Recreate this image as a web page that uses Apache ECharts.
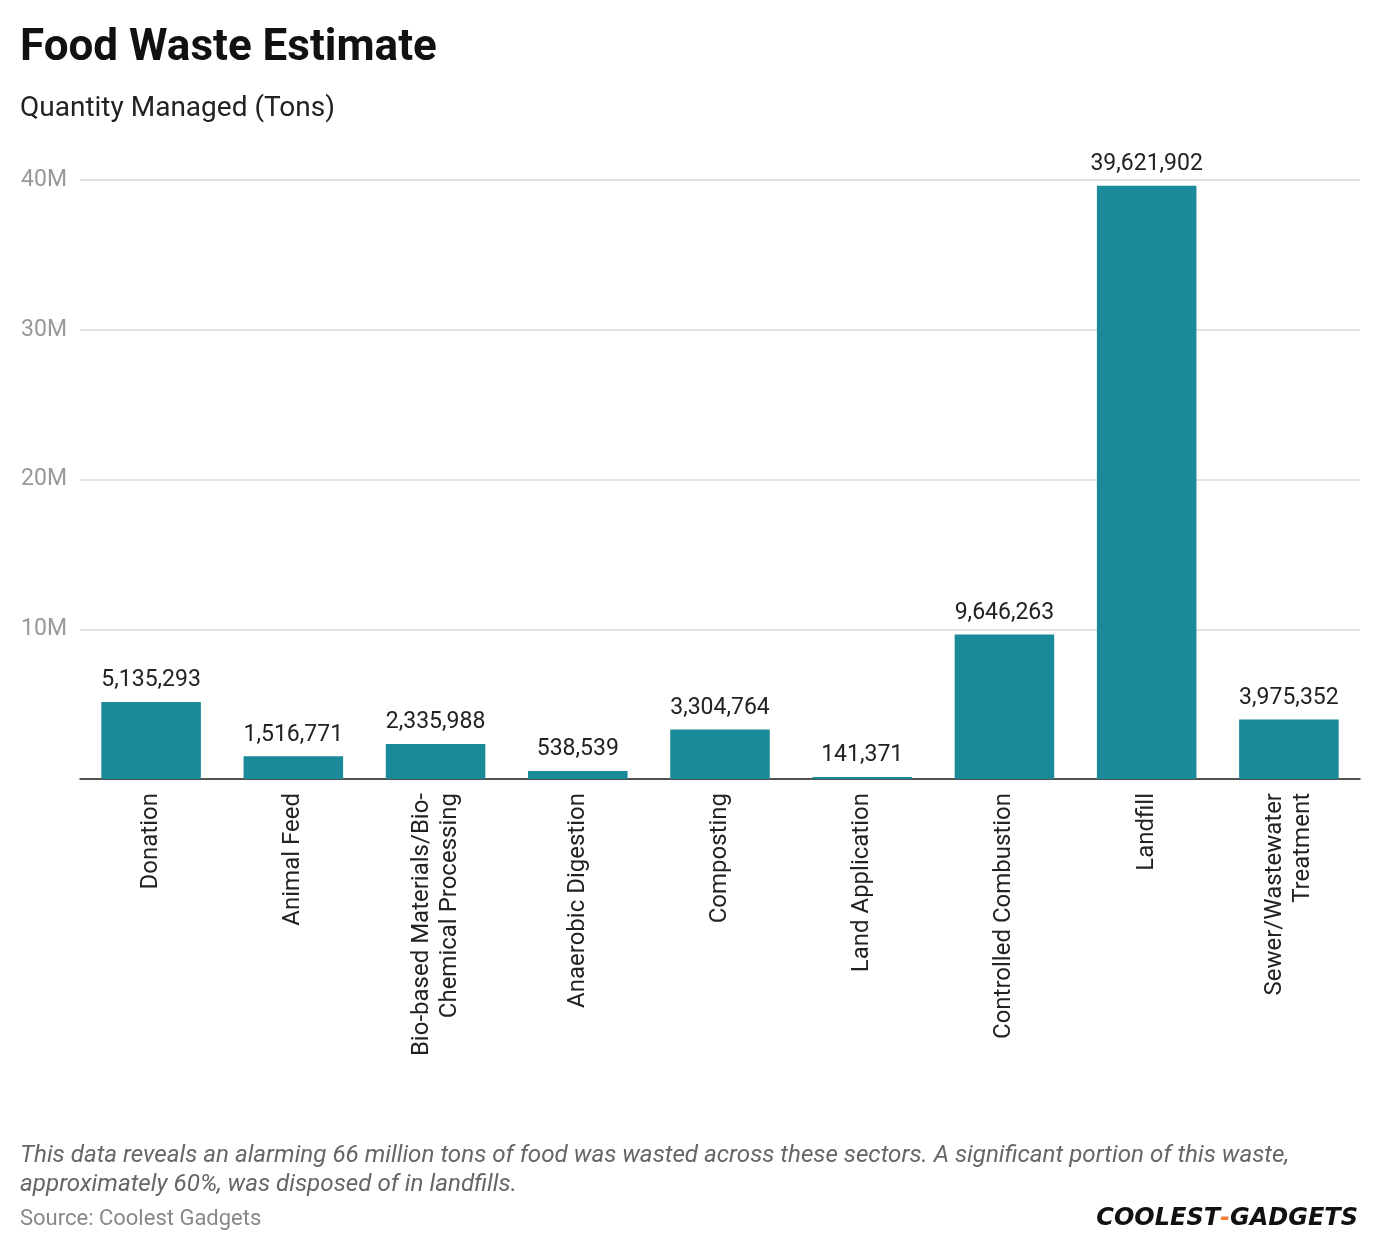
<!DOCTYPE html>
<html>
<head>
<meta charset="utf-8">
<script src="https://cdn.jsdelivr.net/npm/echarts@6/dist/echarts.min.js"></script>
<style>
  html, body { margin: 0; padding: 0; background: #fff; }
  #chart { width: 1380px; height: 1252px; }
</style>
</head>
<body>
<div id="chart"></div>
<script>
const categories = [
    'Donation',
    'Animal Feed',
    'Bio-based Materials/Bio-\nChemical Processing',
    'Anaerobic Digestion',
    'Composting',
    'Land Application',
    'Controlled Combustion',
    'Landfill',
    'Sewer/Wastewater\nTreatment'
];
const quantities = [5135293, 1516771, 2335988, 538539, 3304764, 141371, 9646263, 39621902, 3975352];
const yTicks = [0, 10000000, 20000000, 30000000, 40000000];

const chart = echarts.init(document.getElementById('chart'));

const option = {
    animation: false,
    textStyle: {fontFamily: 'Roboto'},
    title: {
        text: 'Food Waste Estimate',
        subtext: 'Quantity Managed (Tons)',
        left: 15,
        top: 22,
        itemGap: 24,
        textStyle: {fontSize: 44, fontWeight: 'bold', color: '#111', fontFamily: 'Roboto'},
        subtextStyle: {fontSize: 28, color: '#222', fontFamily: 'Roboto'}
    },
    grid: {
        left: 80,
        right: 20,
        top: 180,
        bottom: 473,
        containLabel: false
    },
    xAxis: {
        type: 'category',
        data: categories,
        axisLine: {lineStyle: {color: '#222', width: 1.5}},
        axisTick: {show: false},
        axisLabel: {
            rotate: 90,
            interval: 0,
            margin: 14,
            fontSize: 24,
            color: '#222',
            lineHeight: 28
        }
    },
    yAxis: {
        type: 'value',
        min: yTicks[0],
        max: yTicks[yTicks.length - 1],
        interval: 10000000,
        axisLine: {show: false},
        axisTick: {show: false},
        splitLine: {lineStyle: {color: '#e3e3e3', width: 2}},
        axisLabel: {
            fontSize: 23,
            color: '#999',
            margin: 13,
            formatter: function (v) {
                return v === 0 ? '' : (v / 1000000) + 'M';
            }
        }
    },
    series: [{
        type: 'bar',
        data: quantities,
        barWidth: '70%',
        itemStyle: {color: '#1a8a99'},
        label: {
            show: true,
            position: 'top',
            distance: 10,
            fontSize: 23,
            color: '#222',
            formatter: function (p) {
                return p.value.toLocaleString('en-US');
            }
        }
    }],
    graphic: [
        {
            type: 'text',
            left: 20,
            top: 1141,
            style: {
                text: 'This data reveals an alarming 66 million tons of food was wasted across these sectors. A significant portion of this waste,\napproximately 60%, was disposed of in landfills.',
                font: 'italic 24.2px Roboto',
                fill: '#666',
                lineHeight: 29
            }
        },
        {
            type: 'text',
            left: 20,
            top: 1208,
            style: {
                text: 'Source: Coolest Gadgets',
                font: '22px Roboto',
                fill: '#888'
            }
        },
        {
            type: 'text',
            right: 22,
            top: 1207,
            style: {
                rich: {
                    a: {font: 'italic 900 24px "DejaVu Sans"', fill: '#111'},
                    d: {font: 'italic 900 24px "DejaVu Sans"', fill: '#f07f3c'}
                },
                text: '{a|COOLEST}{d|-}{a|GADGETS}'
            }
        }
    ]
};

chart.setOption(option);
</script>
</body>
</html>
